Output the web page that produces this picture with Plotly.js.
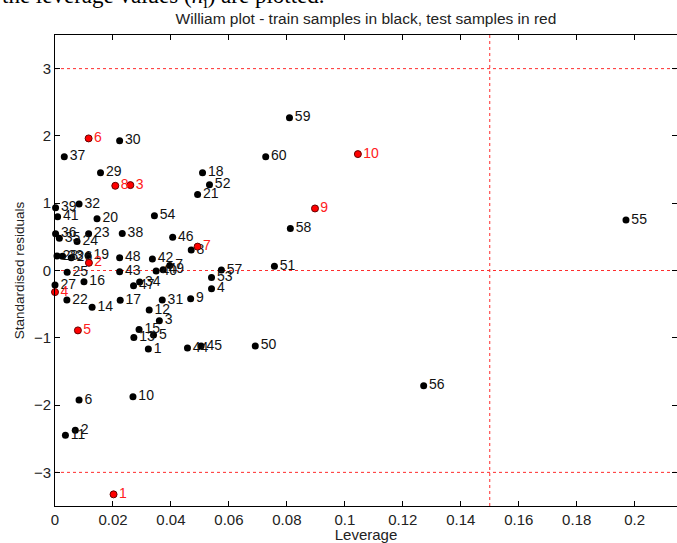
<!DOCTYPE html>
<html>
<head>
<meta charset="utf-8">
<script src="https://cdn.plot.ly/plotly-3.0.1.min.js"></script>
<style>html,body{margin:0;padding:0;background:#fff;}#chart{width:677px;height:543px;}</style>
</head>
<body>
<div id="chart"></div>
<script>
// Training samples (black)
const trainLabels = ['1','2','3','4','5','6','7','8','9','10','11','12','13','14','15','16','17','18','19','20',
  '21','22','23','24','25','26','27','28','29','30','31','32','33','34','35','36','37','38','39','40',
  '41','42','43','44','45','46','47','48','49','50','51','52','53','54','55','56','57','58','59','60'];
const trainLeverage = [0.0322,0.0070,0.0360,0.0540,0.0340,0.0083,0.0396,0.0470,0.0468,0.0269,
  0.0036,0.0325,0.0272,0.0128,0.0290,0.0100,0.0225,0.0509,0.0114,0.0145,
  0.0492,0.0041,0.0116,0.0076,0.0042,0.0056,0.0000,0.0007,0.0157,0.0223,
  0.0370,0.0083,0.0026,0.0292,0.0015,0.0002,0.0032,0.0232,0.0002,0.0349,
  0.0009,0.0336,0.0223,0.0457,0.0504,0.0406,0.0271,0.0223,0.0373,0.0691,
  0.0757,0.0533,0.0540,0.0343,0.1970,0.1272,0.0574,0.0812,0.0809,0.0727];
const trainResidual = [-1.168,-2.376,-0.747,-0.271,-0.960,-1.926,0.073,0.303,-0.418,-1.876,
  -2.450,-0.588,-0.994,-0.548,-0.875,-0.168,-0.444,1.452,0.224,0.768,
  1.131,-0.440,0.545,0.432,-0.026,0.189,-0.217,0.214,1.452,1.927,
  -0.440,0.987,0.210,-0.172,0.481,0.545,1.689,0.551,0.932,-0.009,
  0.798,0.172,-0.019,-1.153,-1.123,0.496,-0.227,0.189,0.013,-1.121,
  0.065,1.274,-0.103,0.813,0.749,-1.713,0.006,0.625,2.269,1.690];

// Test samples (red)
const testLabels = ['1','2','3','4','5','6','7','8','9','10'];
const testLeverage = [0.0202,0.0117,0.0260,0.0000,0.0079,0.0116,0.0492,0.0208,0.0897,0.1045];
const testResidual = [-3.327,0.114,1.269,-0.321,-0.890,1.963,0.355,1.259,0.922,1.730];

// Warning limits
const leverageLimit = 0.15;
const residualLimits = [3, 0, -3];

const xTicks = [0,0.02,0.04,0.06,0.08,0.1,0.12,0.14,0.16,0.18,0.2];
const xTickText = ['0','0.02','0.04','0.06','0.08','0.1','0.12','0.14','0.16','0.18','0.2'];
const yTicks = [-3,-2,-1,0,1,2,3];

const sans = 'Liberation Sans, Arial, sans-serif';
const labelFont = {family:sans, size:14};

const traces = [
  {
    x: trainLeverage, y: trainResidual, text: trainLabels,
    mode: 'markers+text', type: 'scatter', textposition: 'middle right',
    cliponaxis: false,
    marker: {color:'#000', size:7, line:{color:'#000', width:0}},
    textfont: Object.assign({color:'#111'}, labelFont),
    hoverinfo: 'x+y+text'
  },
  {
    x: testLeverage, y: testResidual, text: testLabels,
    mode: 'markers+text', type: 'scatter', textposition: 'middle right',
    cliponaxis: false,
    marker: {color:'#ff0000', size:7, line:{color:'#600', width:1}},
    textfont: Object.assign({color:'#ff2020'}, labelFont),
    hoverinfo: 'x+y+text'
  }
];

const dashLine = {color:'rgb(255,45,45)', width:1, dash:'3px,3px'};
const shapes = residualLimits.map(v => ({
  type:'line', xref:'paper', x0:0, x1:1, yref:'y', y0:v, y1:v, line:dashLine, layer:'below'
}));
shapes.push({type:'line', xref:'x', x0:leverageLimit, x1:leverageLimit, yref:'paper', y0:0, y1:1, line:dashLine, layer:'below'});

const axisCommon = {
  showline:true, linecolor:'#000', linewidth:1, mirror:'ticks',
  ticks:'inside', ticklen:5, tickcolor:'#000', showgrid:false, zeroline:false,
  tickfont:{family:sans, size:15, color:'#222'}
};

const layout = {
  width:677, height:543,
  margin:{l:55, r:0, t:35, b:37},
  paper_bgcolor:'#fff', plot_bgcolor:'#fff',
  showlegend:false,
  title:{text:'William plot - train samples in black, test samples in red',
    font:{family:sans, size:15.5, color:'#222'},
    x:0.5406, xanchor:'center', y:0.965, yanchor:'middle'},
  xaxis: Object.assign({}, axisCommon, {
    range:[0,0.2146], tickvals:xTicks, ticktext:xTickText,
    title:{text:'Leverage', font:{family:sans, size:15, color:'#222'}, standoff:2}
  }),
  yaxis: Object.assign({}, axisCommon, {
    range:[-3.5,3.5], tickvals:yTicks,
    title:{text:'Standardised residuals', font:{family:sans, size:13.5, color:'#222'}, standoff:6}
  }),
  shapes: shapes,
  annotations: [{
    text:'the leverage values (<i>h</i><sub>i</sub>) are plotted.',
    xref:'paper', yref:'paper', x:-55/622, xanchor:'left',
    y:1 + 38/471, yanchor:'middle', showarrow:false,
    font:{family:'Liberation Serif, Times New Roman, serif', size:23, color:'#000'}
  }]
};

Plotly.newPlot('chart', traces, layout, {displayModeBar:false, staticPlot:true});
</script>
</body>
</html>
